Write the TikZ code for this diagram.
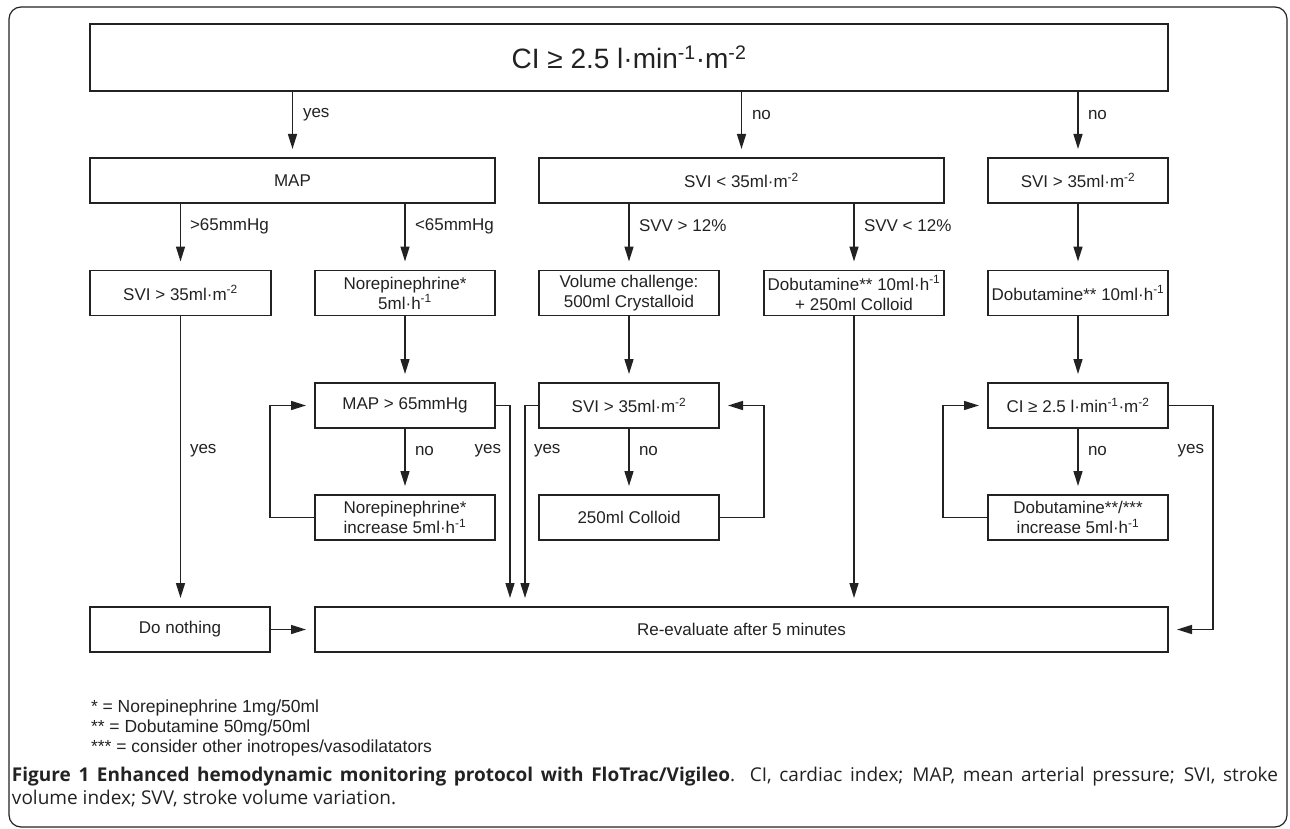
\documentclass[tikz,border=0pt]{standalone}
\usepackage{fontspec}
\setmainfont{Liberation Sans}
\newfontfamily\capfont{Open Sans}
\usetikzlibrary{arrows.meta}
\definecolor{ink}{HTML}{222222}
\newcommand{\myss}[1]{\textsuperscript{#1}}
\begin{document}
\begin{tikzpicture}[x=1pt,y=-1pt,
  every node/.style={inner sep=0pt, outer sep=0pt, text=ink},
  box/.style={draw=ink, line width=1.5pt, minimum height=45pt, align=center,
              font=\fontsize{17}{20}\selectfont},
  conn/.style={draw=ink, line width=1.5pt, -{Triangle[length=15pt,width=9pt]}, shorten >=9pt},
  lbl/.style={font=\fontsize{17}{20}\selectfont},
  foot/.style={anchor=base west, font=\fontsize{17.5}{20}\selectfont},
]
\useasboundingbox (0,0) rectangle (1290,829);
\draw[ink, line width=1.2pt, rounded corners=12pt] (9,7) rectangle (1287,827);

% boxes
\node[box, minimum width=1078pt, minimum height=67pt, font=\fontsize{28}{32}\selectfont] (top) at (629,57.5)
  {CI ≥ 2.5 l·min\myss{-1}·m\myss{-2}};
\node[box, minimum width=405pt] (map) at (292.5,180.5) {MAP};
\node[box, minimum width=405pt] (svilt) at (741.5,180.5) {SVI < 35ml·m\myss{-2}};
\node[box, minimum width=180pt] (svir) at (1078,180.5) {SVI > 35ml·m\myss{-2}};

\node[box, minimum width=181pt] (svil) at (180.5,293) {SVI > 35ml·m\myss{-2}};
\node[box, minimum width=180pt] (nor) at (405,293) {Norepinephrine*\\5ml·h\myss{-1}};
\node[box, minimum width=180pt] (vol) at (629,293) {Volume challenge:\\500ml Crystalloid};
\node[box, minimum width=180pt] (dobcol) at (854,293) {Dobutamine** 10ml·h\myss{-1}\\+ 250ml Colloid};
\node[box, minimum width=180pt] (dob) at (1078,293) {Dobutamine** 10ml·h\myss{-1}};

\node[box, minimum width=180pt] (map65) at (405,405.5) {MAP > 65mmHg};
\node[box, minimum width=180pt] (svim) at (629,405.5) {SVI > 35ml·m\myss{-2}};
\node[box, minimum width=180pt] (ci) at (1078,405.5) {CI ≥ 2.5 l·min\myss{-1}·m\myss{-2}};

\node[box, minimum width=180pt] (norinc) at (405,517.5) {Norepinephrine*\\increase 5ml·h\myss{-1}};
\node[box, minimum width=180pt] (coll) at (629,517.5) {250ml Colloid};
\node[box, minimum width=180pt] (dobinc) at (1078,517.5) {Dobutamine**/***\\increase 5ml·h\myss{-1}};

\node[box, minimum width=180pt] (nothing) at (180,629.5) {Do nothing};
\node[box, minimum width=853pt] (reeval) at (741.5,629.5) {Re-evaluate after 5 minutes};

\coordinate (ya) at (510,607);
\coordinate (yb) at (525,607);

% connectors
\draw[conn] (map.north |- top.south) -- (map.north);
\draw[conn] (svilt.north |- top.south) -- (svilt.north);
\draw[conn] (svir.north |- top.south) -- (svir.north);

\draw[conn] (map.south -| svil.north) -- (svil.north);
\draw[conn] (map.south -| nor.north) -- (nor.north);
\draw[conn] (svilt.south -| vol.north) -- (vol.north);
\draw[conn] (svilt.south -| dobcol.north) -- (dobcol.north);
\draw[conn] (svir.south) -- (dob.north);

\draw[conn] (svil.south) -- (svil.south |- nothing.north);
\draw[conn] (nor.south) -- (map65.north);
\draw[conn] (vol.south) -- (svim.north);
\draw[conn] (dob.south) -- (ci.north);
\draw[conn] (dobcol.south) -- (dobcol.south |- reeval.north);

\draw[conn] (map65.south) -- (norinc.north);
\draw[conn] (svim.south) -- (coll.north);
\draw[conn] (ci.south) -- (dobinc.north);

\draw[conn] (norinc.west) -- ++(-45,0) |- (map65.west);
\draw[conn] (coll.east) -- ++(45,0) |- (svim.east);
\draw[conn] (dobinc.west) -- ++(-45,0) |- (ci.west);

\draw[conn] (map65.east) -| (ya);
\draw[conn] (svim.west) -| (yb);
\draw[conn] (ci.east) -- ++(45,0) |- (reeval.east);
\draw[conn] (nothing.east) -- (reeval.west);

% labels
\node[lbl, anchor=west] (l1) at (303,115) {yes};
\node[lbl, anchor=west] (l2) at (752,115) {no};
\node[lbl, anchor=west] (l3) at (1088,115) {no};
\node[lbl, anchor=west] (l4) at (190,226) {>65mmHg};
\node[lbl, anchor=west] (l5) at (415,226) {<65mmHg};
\node[lbl, anchor=west] (l6) at (639,226) {SVV > 12\%};
\node[lbl, anchor=west] (l7) at (864,226) {SVV < 12\%};
\node[lbl, anchor=west] (l8) at (190,451) {yes};
\node[lbl, anchor=west] (l9) at (415,451) {no};
\node[lbl, anchor=east] (l10) at (501,451) {yes};
\node[lbl, anchor=west] (l11) at (534,451) {yes};
\node[lbl, anchor=west] (l12) at (639,451) {no};
\node[lbl, anchor=west] (l13) at (1088,451) {no};
\node[lbl, anchor=east] (l14) at (1204,451) {yes};

% footnotes
\node[foot] (f1) at (91,712) {* = Norepinephrine 1mg/50ml};
\node[foot] (f2) at (91,732) {** = Dobutamine 50mg/50ml};
\node[foot] (f3) at (91,752) {*** = consider other inotropes/vasodilatators};

% caption
\node[anchor=base west, font=\capfont\fontsize{19}{23}\selectfont] (cap1) at (12,781)
  {\makebox[1266pt][s]{\textbf{Figure 1 Enhanced hemodynamic monitoring protocol with FloTrac/Vigileo}. CI, cardiac index; MAP, mean arterial pressure; SVI, stroke}};
\node[anchor=base west, font=\capfont\fontsize{19}{23}\selectfont] (cap2) at (12,804)
  {volume index; SVV, stroke volume variation.};
\end{tikzpicture}
\end{document}
